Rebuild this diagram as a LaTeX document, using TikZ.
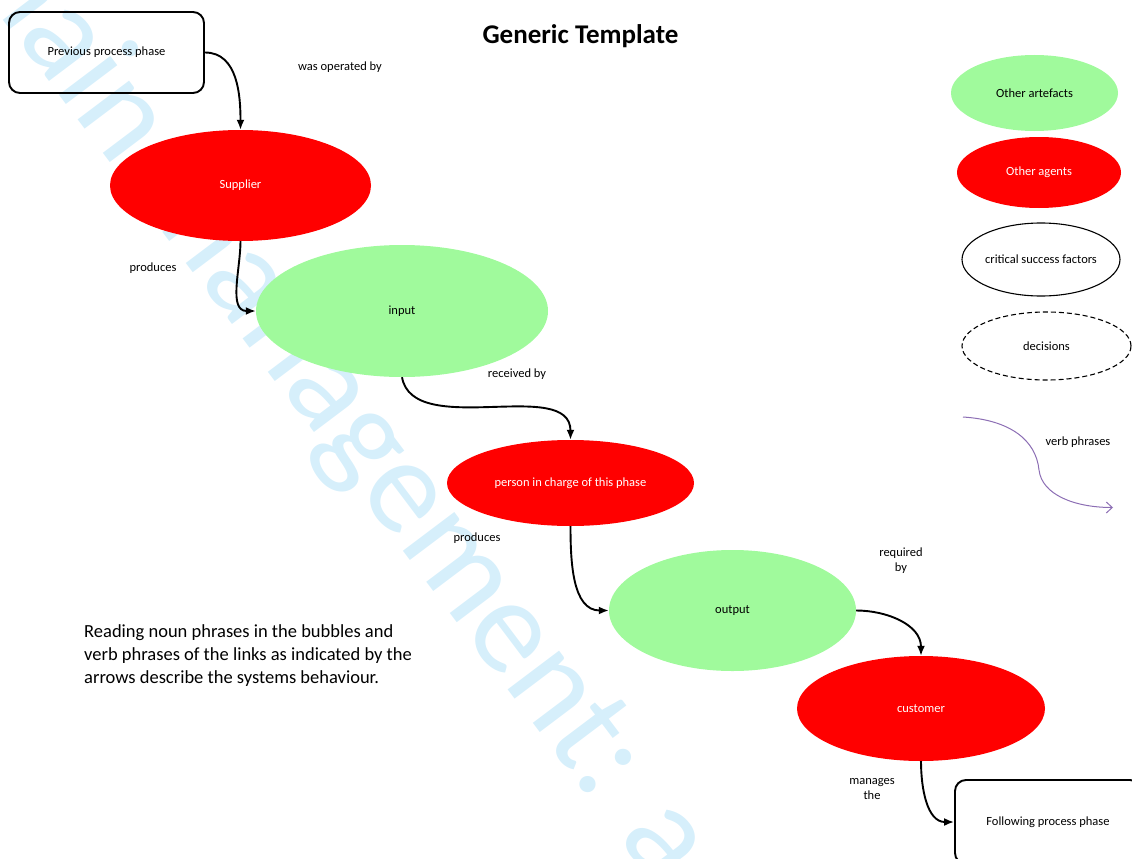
\documentclass[tikz,border=0pt]{standalone}
\usepackage{fontspec}
\setmainfont{Carlito}
\usetikzlibrary{shapes.geometric,arrows.meta}
\definecolor{agentred}{RGB}{255,0,0}
\definecolor{artgreen}{RGB}{160,250,156}
\definecolor{wmblue}{RGB}{214,239,251}
\definecolor{verbpurple}{RGB}{140,110,180}
\begin{document}
\begin{tikzpicture}[x=1pt,y=-1pt,
  lbl/.style={font=\fontsize{12.5}{15}\selectfont, inner sep=0pt, align=center},
  bubble/.style={ellipse, inner sep=0pt, font=\fontsize{12.5}{15}\selectfont},
  agent/.style={bubble, fill=agentred, text=white},
  artefact/.style={bubble, fill=artgreen, text=black},
  phasebox/.style={draw, line width=1.9pt, rounded corners=11pt, font=\fontsize{12.5}{15}\selectfont, inner sep=0pt},
  link/.style={line width=1.9pt, -{Latex[length=10pt,width=8pt]}},
]
\useasboundingbox (0,0) rectangle (1132,859);
\clip (0,0) rectangle (1132,859);
% watermark
\node[text=wmblue, font=\fontsize{135}{150}\selectfont, rotate=-53, anchor=base east, inner sep=0pt] (wm) at (657,888) {Supply chain management: a};
% title
\node[font=\fontsize{27}{32}\selectfont\bfseries, inner sep=0pt] (title) at (580.5,36) {Generic Template};
% process boxes
\node[phasebox, minimum width=195pt, minimum height=81pt] (prev) at (106.5,52.5) {Previous process phase};
\node[phasebox, minimum width=186pt, minimum height=84pt] (next) at (1048,822) {Following process phase};
% bubbles
\node[agent, minimum width=261pt, minimum height=111pt] (sup) at (240.5,185.5) {Supplier};
\node[artefact, minimum width=292pt, minimum height=132pt] (inp) at (402,311) {input};
\node[agent, minimum width=247pt, minimum height=86pt] (pic) at (570.5,483) {person in charge of this phase};
\node[artefact, minimum width=247pt, minimum height=121pt] (out) at (732.5,610.5) {output};
\node[agent, minimum width=248pt, minimum height=105pt] (cus) at (921,708.5) {customer};
% links
\draw[link] (prev.east) to[out=0,in=90] (sup.north);
\draw[link] (sup.south) to[out=-90,in=180] (inp.west);
\draw[link] (inp.south) to[out=-80,in=90,looseness=0.9] (pic.north);
\draw[link] (pic.south) to[out=-90,in=180] (out.west);
\draw[link] (out.east) to[out=0,in=90] (cus.north);
\draw[link] (cus.south) to[out=-90,in=180] (next.west);
% link labels
\node[lbl] (l1) at (340,67) {was operated by};
\node[lbl] (l2) at (153,268) {produces};
\node[lbl] (l3) at (517,374) {received by};
\node[lbl] (l4) at (477,538) {produces};
\node[lbl] (l5) at (901,561) {required\\by};
\node[lbl] (l6) at (872,789) {manages\\the};
% legend
\node[artefact, minimum width=167pt, minimum height=76pt] (leg1) at (1034.5,93) {Other artefacts};
\node[agent, minimum width=164pt, minimum height=71pt] (leg2) at (1039,172.5) {Other agents};
\node[bubble, draw, line width=1.1pt, minimum width=158pt, minimum height=73pt] (leg3) at (1041,259.5) {critical success factors};
\node[bubble, draw, dashed, dash pattern=on 5pt off 3pt, line width=1.1pt, minimum width=169pt, minimum height=68pt] (leg4) at (1046.5,346) {decisions};
\coordinate (vs) at (963,417);
\coordinate (ve) at (1113,507.5);
\draw[verbpurple, line width=1pt, -{Straight Barb[length=6pt,width=11pt]}] (vs) .. controls (1010,420) and (1036,440) .. (1039,470) .. controls (1042,495) and (1075,507.5) .. (ve);
\node[lbl] (leg5) at (1078,442) {verb phrases};
% note
\node[font=\fontsize{18.5}{23}\selectfont, align=left, anchor=north west, inner sep=0pt] (note) at (84,624) {Reading noun phrases in the bubbles and\\verb phrases of the links as indicated by the\\arrows describe the systems behaviour.};
\end{tikzpicture}
\end{document}
